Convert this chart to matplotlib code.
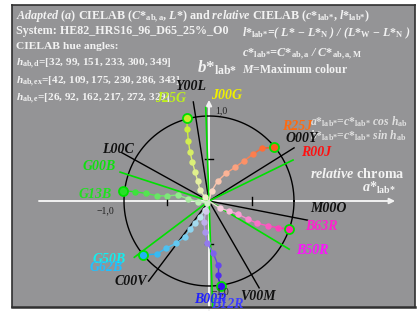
import numpy as np
import matplotlib
matplotlib.use("Agg")
import matplotlib.pyplot as plt
from matplotlib.colors import to_rgb

plt.rcParams['mathtext.fontset'] = 'custom'
plt.rcParams['mathtext.rm'] = 'Liberation Serif:bold'
plt.rcParams['mathtext.it'] = 'Liberation Serif:italic:bold'
plt.rcParams['mathtext.bf'] = 'Liberation Serif:bold'
plt.rcParams['font.family'] = ['Liberation Serif', 'DejaVu Sans']
plt.rcParams['font.weight'] = 'bold'

# ---------------- data ----------------
hue_d = [32, 99, 151, 233, 300, 349]
names_d = ['O00Y', 'Y00L', 'L00C', 'C00V', 'V00M', 'M00O']
hue_ex = [42, 109, 175, 230, 286, 343]
hue_e = [26, 92, 162, 217, 272, 329]
names_e = ['R00J', 'J00G', 'G00B', 'G50B', 'B00R', 'B50R']
len_d = [1.18, 1.18, 1.18, 1.18, 1.18, 1.18]
len_e = [1.10, 1.10, 1.10, 1.10, 1.30, 1.10]

series_names = ['R25J', 'J25G', 'G13B', 'G62B', 'B12R', 'B63R']
r25j_x = [0.031, 0.102, 0.200, 0.306, 0.415, 0.521, 0.620, 0.768]
r25j_y = [0.118, 0.235, 0.326, 0.396, 0.474, 0.553, 0.620, 0.631]
j25g_x = [-0.047, -0.106, -0.133, -0.165, -0.196, -0.224, -0.243, -0.255, -0.262]
j25g_y = [0.044, 0.129, 0.235, 0.345, 0.462, 0.580, 0.709, 0.843, 0.976]
g13b_x = [-0.027, -0.126, -0.244, -0.368, -0.498, -0.615, -0.745, -0.871, -1.008]
g13b_y = [-0.020, -0.008, 0.024, 0.071, 0.059, 0.062, 0.090, 0.109, 0.121]
g62b_x = [-0.047, -0.106, -0.165, -0.224, -0.282, -0.388, -0.506, -0.615, -0.773]
g62b_y = [-0.106, -0.185, -0.263, -0.333, -0.420, -0.498, -0.556, -0.624, -0.635]
b12r_x = [-0.040, -0.059, -0.047, -0.020, 0.051, 0.102, 0.102, 0.137]
b12r_y = [-0.120, -0.244, -0.368, -0.498, -0.615, -0.748, -0.876, -1.000]
b63r_x = [0.129, 0.239, 0.345, 0.462, 0.568, 0.698, 0.815, 0.945]
b63r_y = [-0.086, -0.118, -0.157, -0.216, -0.262, -0.294, -0.314, -0.333]
series_x = [r25j_x, j25g_x, g13b_x, g62b_x, b12r_x, b63r_x]
series_y = [r25j_y, j25g_y, g13b_y, g62b_y, b12r_y, b63r_y]

# ---------------- style ----------------
W, H = 418, 311
fig = plt.figure(figsize=(W / 100, H / 100), dpi=100)
fig.patch.set_facecolor('white')
S = 85.0  # px per unit
ox, oy = 209.0, 201.0
L, R, T, B = 12.0, 415.0, 5.0, 307.0
ax = fig.add_axes([L / W, 1 - B / H, (R - L) / W, (B - T) / H])
ax.set_xlim((L - ox) / S, (R - ox) / S)
ax.set_ylim((oy - B) / S, (oy - T) / S)
ax.set_facecolor('#949496')
for sp in ax.spines.values():
    sp.set_color('#303030')
    sp.set_linewidth(1.2)
ax.spines['bottom'].set_linewidth(1.8)
ax.set_xticks([])
ax.set_yticks([])
renderer = fig.canvas.get_renderer()


def P(x, y):
    return (x / W, 1 - y / H)


def fit(t, width):
    """scale a text's font size so that it spans `width` pixels"""
    for _ in range(3):
        w = t.get_window_extent(renderer).width
        if w > 0:
            t.set_fontsize(t.get_fontsize() * width / w)
    return t.get_fontsize()


GRN = '#00e000'
WHT = '#f2f2f2'
dcol = {'R00J': '#ff1010', 'J00G': '#f0f000', 'G00B': '#10e010', 'G50B': '#10f0f0',
        'B00R': '#2020ff', 'B50R': '#ff10ff'}
scol = {'R25J': '#ff5a1e', 'J25G': '#c8ec28', 'G13B': '#28e028', 'G62B': '#20b4f4',
        'B12R': '#3a10f0', 'B63R': '#ff28b4'}
lab_col = {'R25J': '#ff6a10', 'J25G': '#bff01c', 'G13B': '#20e020', 'G62B': '#20c0ff',
           'B12R': '#3c3cff', 'B63R': '#ff20d0'}

# axes (white)
ax.annotate('', xy=(2.19, 0), xytext=(-2.0, 0),
            arrowprops=dict(arrowstyle='-|>', color=WHT, lw=1.4, mutation_scale=8,
                            shrinkA=0, shrinkB=0), zorder=2)
ax.annotate('', xy=(0, 1.19), xytext=(0, -1.30),
            arrowprops=dict(arrowstyle='-|>', color=WHT, lw=1.4, mutation_scale=8,
                            shrinkA=0, shrinkB=0), zorder=2)
for v in (-0.5, 0.5):
    ax.plot([v, v], [-0.05, 0.05], color='black', lw=1, zorder=3)
    ax.plot([-0.05, 0.05], [v, v], color='black', lw=1, zorder=3)

t = np.linspace(0, 2 * np.pi, 400)
ax.plot(np.cos(t), np.sin(t), color='black', lw=1.0, zorder=3)

for h, ln in zip(hue_d, len_d):
    a = np.radians(h)
    ax.plot([0, ln * np.cos(a)], [0, ln * np.sin(a)], color='black', lw=1.0, zorder=3)
for h, ln in zip(hue_e, len_e):
    a = np.radians(h)
    ax.plot([0, ln * np.cos(a)], [0, ln * np.sin(a)], color=GRN, lw=1.2, zorder=3)

for name, xs, ys in zip(series_names, series_x, series_y):
    c1 = np.array(to_rgb(scol[name]))
    n = len(xs)
    cols = []
    for i in range(n):
        f = 0.18 + 0.82 * i / (n - 1)
        cols.append(tuple((1 - f) * np.array([0.97, 0.95, 0.92]) + f * c1))
    px = [0] + list(xs)
    py = [0] + list(ys)
    for i in range(n):
        ax.plot(px[i:i + 2], py[i:i + 2], color=cols[i], lw=1.0, zorder=4)
    for i in range(n - 1):
        ax.plot(xs[i], ys[i], 'o', ms=4.6, color=cols[i], mec='none', zorder=5)
    ax.plot(xs[-1], ys[-1], 'o', ms=6.5, mfc=cols[-1], mec=GRN, mew=1.3, zorder=6)

# ---------------- texts ----------------
tk = dict(color=WHT, fontsize=8.5, va='baseline', ha='left')
t1 = fig.text(*P(16, 20), r"$\mathit{Adapted\ (a)}$ CIELAB ($C{*}_{\rm ab,a}$, $L{*}$) and "
              r"$\mathit{relative}$ CIELAB ($c{*}_{\rm lab{*}}$, $l{*}_{\rm lab{*}}$)", **tk)
fit(t1, 352)
fit(fig.text(*P(16, 34), "System: HE82_HRS16_96_D65_25%_O0", **tk), 212)
fit(fig.text(*P(16, 49), "CIELAB hue angles:", **tk), 101)
th = fig.text(*P(16, 66), r"$h_{\rm ab,d}$=[" + ", ".join(str(v) for v in hue_d) + "]", **tk)
hfs = fit(th, 156)
fig.text(*P(16, 84), r"$h_{\rm ab,ex}$=[" + ", ".join(str(v) for v in hue_ex) + "]",
         **{**tk, 'fontsize': hfs})
fig.text(*P(16, 101), r"$h_{\rm ab,e}$=[" + ", ".join(str(v) for v in hue_e) + "]",
         **{**tk, 'fontsize': hfs})
fit(fig.text(*P(242, 36), r"$l{*}_{\rm lab{*}}$=( $L{*}$ $-$ $L{*}_{\rm N}$ ) / ($L{*}_{\rm W}$ $-$ $L{*}_{\rm N}$ )",
             style='italic', **tk), 168)
fit(fig.text(*P(242, 57), r"$c{*}_{\rm lab{*}}$=$C{*}_{\rm ab,a}$ / $C{*}_{\rm ab,a,M}$",
             style='italic', **tk), 120)
fit(fig.text(*P(242, 73), r"$M$=Maximum colour", **tk), 106)
fit(fig.text(*P(197, 73), r"$b{*}_{\rm lab{*}}$", color=WHT, fontsize=9.5, va='baseline'), 40)
ck = dict(color='#e0e0e0', fontsize=7.8, va='baseline')
cfs = fit(fig.text(*P(310, 125), r"$a{*}_{\rm lab{*}}$=$c{*}_{\rm lab{*}}$ $\mathit{cos}$ $h_{\rm ab}$",
                   **ck), 98)
fig.text(*P(310, 139), r"$b{*}_{\rm lab{*}}$=$c{*}_{\rm lab{*}}$ $\mathit{sin}$ $h_{\rm ab}$",
         **{**ck, 'fontsize': cfs})
fit(fig.text(*P(310, 178), r"$\mathit{relative}$ chroma", color=WHT, fontsize=10, va='baseline'), 95)
fit(fig.text(*P(362, 192), r"$a{*}_{\rm lab{*}}$", color=WHT, fontsize=10, va='baseline'), 34)
nk = dict(color='#202020', fontsize=7, va='baseline', fontweight='normal')
fig.text(*P(215, 113), "1,0", **nk)
fig.text(*P(97, 213), "\u22121,0", **nk)
fig.text(*P(212, 294), "\u22121,0", **nk)

lab_pos = {'Y00L': (175, 90), 'J00G': (211, 99), 'J25G': (155, 102), 'L00C': (102, 153),
           'G00B': (83, 170), 'G13B': (79, 198), 'G50B': (93, 263), 'G62B': (90, 271),
           'C00V': (115, 285), 'B00R': (194, 303), 'B12R': (211, 308), 'V00M': (240, 300),
           'B50R': (296, 254), 'B63R': (305, 230), 'M00O': (310, 212), 'R00J': (301, 156),
           'O00Y': (285, 142), 'R25J': (282, 130)}
lk = dict(fontsize=9.5, style='italic', fontweight='bold', va='baseline')
tg = fig.text(*P(*lab_pos['G13B']), 'G13B', color=lab_col['G13B'], **lk)
lk['fontsize'] = fit(tg, 33)
for nm in names_d:
    fig.text(*P(*lab_pos[nm]), nm, color='#101010', **lk)
for nm in names_e:
    fig.text(*P(*lab_pos[nm]), nm, color=dcol[nm], **lk)
for nm in series_names:
    if nm != 'G13B':
        fig.text(*P(*lab_pos[nm]), nm, color=lab_col[nm], **lk)

fig.savefig('out.png', dpi=100, facecolor='white')
